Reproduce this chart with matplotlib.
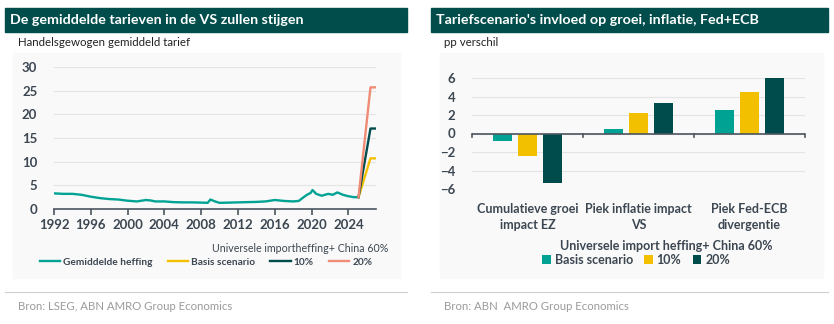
import numpy as np
import matplotlib.pyplot as plt
from matplotlib.patches import Rectangle
from matplotlib.lines import Line2D

plt.rcParams['font.family'] = ['Lato', 'DejaVu Sans']

# --- data: trade-weighted average US tariff (%) ---
hist_years = [1992.0, 1993.0, 1994.0, 1995.0, 1996.0, 1997.0, 1998.0, 1999.0,
              2000.0, 2001.0, 2002.0, 2002.5, 2003.0, 2004.0, 2005.0, 2006.0,
              2007.0, 2008.0, 2008.7, 2009.0, 2009.5, 2010.0, 2011.0, 2012.0,
              2013.0, 2014.0, 2015.0, 2016.0, 2017.0, 2018.0, 2018.6, 2019.0,
              2019.5, 2019.9, 2020.1, 2020.5, 2021.1, 2021.8, 2022.3, 2022.8,
              2023.4, 2024.0, 2024.6, 2025.1]
hist_tariff = [3.3, 3.2, 3.2, 3.0, 2.6, 2.3, 2.1, 2.0,
               1.75, 1.6, 1.9, 1.8, 1.6, 1.6, 1.45, 1.4,
               1.4, 1.35, 1.3, 2.0, 1.6, 1.3, 1.35, 1.4,
               1.45, 1.5, 1.6, 1.9, 1.7, 1.6, 1.7, 2.3,
               3.0, 3.4, 4.0, 3.2, 2.8, 3.2, 3.0, 3.5,
               3.0, 2.7, 2.5, 2.5]
scen_years = [2025.1, 2026.4, 2027.0]
scen_base = [2.5, 10.7, 10.7]
scen_10 = [2.5, 17.0, 17.0]
scen_20 = [2.5, 25.7, 25.7]

# --- data: scenario impact (pp difference) ---
categories = ["Cumulatieve groei\nimpact EZ", "Piek inflatie impact\nVS",
              "Piek Fed-ECB\ndivergentie"]
bar_base = [-0.8, 0.5, 2.5]
bar_10 = [-2.4, 2.2, 4.5]
bar_20 = [-5.3, 3.3, 6.0]

TEAL = "#00a393"
YELLOW = "#f3c000"
DARK = "#004c4c"
SALMON = "#f08c75"
HEADER = "#004d4b"
TXT = "#3c4752"

W, H = 834, 324
fig = plt.figure(figsize=(W / 100, H / 100), dpi=100)


def px_rect(x0, y0, x1, y1):
    return [x0 / W, 1 - y1 / H, (x1 - x0) / W, (y1 - y0) / H]


def fx(x):
    return x / W


def fy(y):
    return 1 - y / H


# panel backgrounds, headers and footers
for (x0, x1, bx0, bx1, title, sub, src) in [
        (5, 407, 13, 400, "De gemiddelde tarieven in de VS zullen stijgen",
         "Handelsgewogen gemiddeld tarief", "Bron: LSEG, ABN AMRO Group Economics"),
        (431, 828, 440, 823, "Tariefscenario's invloed op groei, inflatie, Fed+ECB",
         "pp verschil", "Bron: ABN  AMRO Group Economics")]:
    fig.patches.append(Rectangle((fx(bx0), fy(278)), (bx1 - bx0) / W, 225 / H,
                                 transform=fig.transFigure, color="#f9f9f9", zorder=-10))
    fig.patches.append(Rectangle((fx(x0), fy(32)), (x1 - x0) / W, 24 / H,
                                 transform=fig.transFigure, color=HEADER, zorder=-10))
    fig.text(fx(x0 + 5), fy(20.5), title, color="white", fontsize=10.3,
             fontweight="bold", va="center")
    fig.text(fx(x0 + 13), fy(42), sub, color="#222222", fontsize=8.3, va="center")
    fig.add_artist(Line2D([fx(x0), fx(x1)], [fy(292), fy(292)], color="#cfcfcf",
                          lw=0.8, transform=fig.transFigure))
    fig.text(fx(x0 + 13), fy(306), src, color="#9b9b9b", fontsize=8.2, va="center")

# --- left: tariff line chart ---
ax1 = fig.add_axes(px_rect(54, 67, 376, 209))
ax1.set_facecolor("none")
ax1.plot(hist_years, hist_tariff, color=TEAL, lw=1.7, label="Gemiddelde heffing")
ax1.plot(scen_years, scen_base, color=YELLOW, lw=1.7, label="Basis scenario")
ax1.plot(scen_years, scen_10, color=DARK, lw=1.7, label="10%")
ax1.plot(scen_years, scen_20, color=SALMON, lw=1.7, label="20%")
ax1.set_xlim(1992, 2027)
ax1.set_ylim(0, 30)
ax1.set_yticks(range(0, 31, 5))
ax1.set_xticks(range(1992, 2025, 4))
ax1.grid(axis="y", color="#e4e4e4", lw=0.8)
ax1.set_axisbelow(True)
for s in ["top", "right", "left"]:
    ax1.spines[s].set_visible(False)
ax1.spines["bottom"].set_color("#4b5560")
ax1.spines["bottom"].set_linewidth(1.2)
ax1.tick_params(axis="y", length=0, labelsize=9.5, labelcolor=TXT, pad=12)
ax1.tick_params(axis="x", length=4, width=1.2, color="#4b5560", labelsize=9.5,
                labelcolor=TXT, pad=3)
for lab in ax1.get_xticklabels() + ax1.get_yticklabels():
    lab.set_fontweight("bold")

fig.text(fx(388), fy(248), "Universele importheffing+ China 60%", ha="right",
         va="center", fontsize=7.7, color=TXT)
ax1.legend(loc="center", bbox_to_anchor=(fx(206), fy(262)),
           bbox_transform=fig.transFigure, ncol=4, frameon=False,
           prop={"size": 7.3, "weight": "bold"}, labelcolor=TXT,
           handlelength=2.0, handletextpad=0.3, columnspacing=1.5)

# --- right: scenario bar chart ---
ax2 = fig.add_axes(px_rect(472, 78, 805, 189))
ax2.set_facecolor("none")
x = np.arange(len(categories))
step, bw = 0.223, 0.175
ax2.bar(x - step, bar_base, bw, color=TEAL, label="Basis scenario")
ax2.bar(x, bar_10, bw, color=YELLOW, label="10%")
ax2.bar(x + step, bar_20, bw, color=DARK, label="20%")
ax2.set_xlim(-0.5, 2.5)
ax2.set_ylim(-6, 6)
ax2.set_yticks(range(-6, 7, 2))
ax2.grid(axis="y", color="#e4e4e4", lw=0.8)
ax2.set_axisbelow(True)
for s in ax2.spines.values():
    s.set_visible(False)
ax2.axhline(0, color="#4b5560", lw=1.2, zorder=1)
ax2.set_xticks([])
for b in [-0.5, 0.5, 1.5, 2.5]:
    ax2.plot([b, b], [0, -0.4], color="#4b5560", lw=1.2, clip_on=False, zorder=1)
ax2.tick_params(axis="y", length=0, labelsize=9.5, labelcolor=TXT, pad=12)
for lab in ax2.get_yticklabels():
    lab.set_fontweight("bold")
for i, c in enumerate(categories):
    ax2.text(i, -7.5, c, ha="center", va="top", fontsize=9, fontweight="bold",
             color=TXT, linespacing=1.45)

fig.text(fx(666), fy(246), "Universele import heffing+ China 60%", ha="center",
         va="center", fontsize=9, fontweight="bold", color=TXT)
ax2.legend(loc="center", bbox_to_anchor=(fx(636), fy(260)),
           bbox_transform=fig.transFigure, ncol=3, frameon=False,
           prop={"size": 9, "weight": "bold"}, labelcolor=TXT,
           handlelength=0.7, handleheight=0.7, handletextpad=0.3, columnspacing=0.9)

fig.savefig("out.png", dpi=100)
